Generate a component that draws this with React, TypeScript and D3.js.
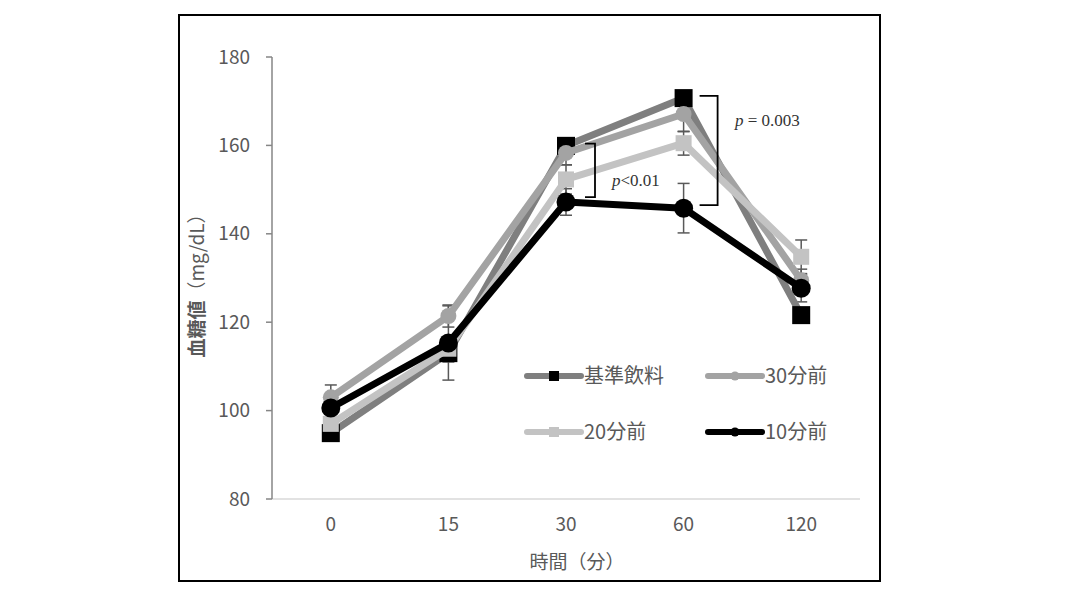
import React from "react";
import * as d3 from "d3";

const categories = ["0", "15", "30", "60", "120"];
const seriesNames = ["基準飲料", "30分前", "20分前", "10分前"];
const kijun = [94.9, 113, 159.9, 170.7, 121.6];
const min30 = [103, 121.4, 158.3, 167.1, 129.5];
const min20 = [97, 114, 152.3, 160.5, 134.8];
const min10 = [100.6, 115.3, 147.2, 145.8, 127.7];
const errKijun = [1.5, 2, 1.5, 1.5, 1.5];
const err30 = [2.8, 2.5, 2.7, 4, 2.5];
const err20 = [1.5, 2.6, 3.3, 2.7, 3.8];
const err10 = [1.5, 8.4, 3, 5.6, 3.1];
const yTicks = [80, 100, 120, 140, 160, 180];
const brackets = [
  { cat: "30", top: 160.4, bottom: 148.3, label: "<0.01" },
  { cat: "60", top: 171.2, bottom: 146.5, label: " = 0.003" },
];

const FONT = "'Noto Sans CJK JP', 'Noto Sans', sans-serif";
const SERIF = "'Liberation Serif', 'DejaVu Serif', serif";

const styles = [
  { line: "#7f7f7f", fill: "#000", marker: "square", size: 18, lsize: 10 },
  { line: "#a3a3a3", fill: "#a3a3a3", marker: "circle", size: 16, lsize: 9 },
  { line: "#c3c3c3", fill: "#c3c3c3", marker: "square", size: 16, lsize: 10 },
  { line: "#000", fill: "#000", marker: "circle", size: 19, lsize: 9 },
];

export default function App() {
  const W = 1065, H = 596;
  const y = d3.scaleLinear().domain([80, 180]).range([499, 57]);
  const xb = d3.scaleBand().domain(categories).range([272, 860]).padding(0);
  const cx = (c: string) => (xb(c) as number) + xb.bandwidth() / 2;
  const data = [kijun, min30, min20, min10];
  const errs = [errKijun, err30, err20, err10];
  const line = d3
    .line<number>()
    .x((_, i) => cx(categories[i]))
    .y((d) => y(d));

  const marker = (s: any, x: number, yy: number, size: number, key: string) =>
    s.marker === "square" ? (
      <rect key={key} x={x - size / 2} y={yy - size / 2} width={size} height={size} fill={s.fill} />
    ) : (
      <circle key={key} cx={x} cy={yy} r={size / 2} fill={s.fill} />
    );

  const legendPos = [
    { x: 527, y: 376 },
    { x: 708, y: 376 },
    { x: 527, y: 432 },
    { x: 708, y: 432 },
  ];

  return (
    <svg width={W} height={H} style={{ position: "absolute", left: 0, top: 0 }}>
      <rect x={0} y={0} width={W} height={H} fill="#fff" />
      <rect x={179} y={15} width={701} height={566} fill="none" stroke="#000" strokeWidth={2} />
      {/* axes */}
      <line x1={272} x2={860} y1={y(80)} y2={y(80)} stroke="#d9d9d9" strokeWidth={1.5} />
      <line x1={272} x2={272} y1={y(180)} y2={y(80)} stroke="#868686" strokeWidth={1.5} />
      {yTicks.map((t) => (
        <g key={t}>
          <line x1={266} x2={272} y1={y(t)} y2={y(t)} stroke="#868686" strokeWidth={1.5} />
          <text x={250} y={y(t)} dy="0.35em" textAnchor="end" fontFamily={FONT} fontSize={19} fill="#595959">
            {t}
          </text>
        </g>
      ))}
      {categories.map((c) => (
        <text key={c} x={cx(c)} y={524} dy="0.35em" textAnchor="middle" fontFamily={FONT} fontSize={19} fill="#595959">
          {c}
        </text>
      ))}
      <text x={577} y={562} dy="0.35em" textAnchor="middle" fontFamily={FONT} fontSize={19} fill="#595959">
        時間（分）
      </text>
      <text
        transform={`translate(197,${281}) rotate(-90)`}
        textAnchor="middle"
        dy="0.35em"
        fontFamily={FONT}
        fontSize={19}
        fill="#595959"
      >
        <tspan fontWeight="bold">血糖値</tspan>
        <tspan>（mg/dL）</tspan>
      </text>
      {/* error bars */}
      {data.map((vals, si) =>
        vals.map((v, i) => {
          const x = cx(categories[i]);
          const e = errs[si][i];
          return (
            <g key={`e${si}-${i}`} stroke="#595959" strokeWidth={1.5}>
              <line x1={x} x2={x} y1={y(v + e)} y2={y(v - e)} />
              <line x1={x - 6} x2={x + 6} y1={y(v + e)} y2={y(v + e)} />
              <line x1={x - 6} x2={x + 6} y1={y(v - e)} y2={y(v - e)} />
            </g>
          );
        })
      )}
      {/* series */}
      {data.map((vals, si) => (
        <g key={`s${si}`}>
          <path d={line(vals) as string} fill="none" stroke={styles[si].line} strokeWidth={7} strokeLinejoin="round" />
          {vals.map((v, i) => marker(styles[si], cx(categories[i]), y(v), styles[si].size, `m${si}-${i}`))}
        </g>
      ))}
      {/* brackets */}
      {brackets.map((b, i) => {
        const bx = cx(b.cat) + (i === 0 ? 29 : 34);
        const hook = i === 0 ? 10 : 18;
        const t = y(b.top), bo = y(b.bottom);
        return (
          <g key={`b${i}`}>
            <path d={`M${bx - hook},${t} L${bx},${t} L${bx},${bo} L${bx - hook},${bo}`} fill="none" stroke="#000" strokeWidth={1.8} />
          </g>
        );
      })}
      <text x={612} y={186} fontFamily={SERIF} fontSize={17} fill="#333">
        <tspan fontStyle="italic">p</tspan>
        <tspan>{brackets[0].label}</tspan>
      </text>
      <text x={735} y={126} fontFamily={SERIF} fontSize={17} fill="#333">
        <tspan fontStyle="italic">p</tspan>
        <tspan>{brackets[1].label}</tspan>
      </text>
      {/* legend */}
      {seriesNames.map((n, si) => {
        const p = legendPos[si];
        const s = styles[si];
        return (
          <g key={`l${si}`}>
            <line x1={p.x} x2={p.x + 54} y1={p.y} y2={p.y} stroke={s.line} strokeWidth={6} strokeLinecap="round" />
            {marker(s, p.x + 27, p.y, s.lsize, `lm${si}`)}
            <text x={p.x + 57} y={p.y} dy="0.35em" fontFamily={FONT} fontSize={20} fill="#595959">
              {n}
            </text>
          </g>
        );
      })}
    </svg>
  );
}
